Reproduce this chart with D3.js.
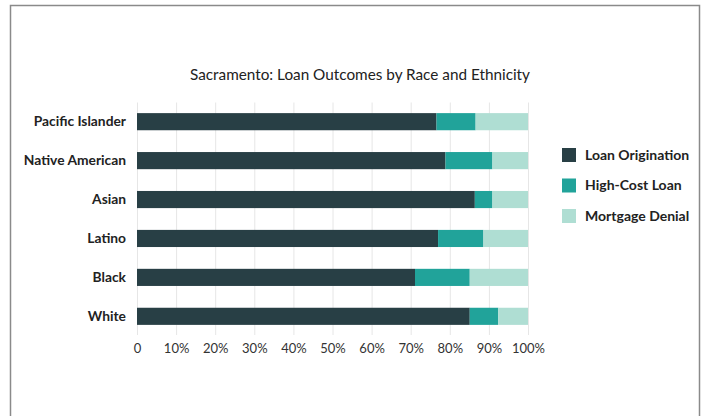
<!DOCTYPE html>
<html>
<head>
<meta charset="utf-8">
<script src="https://cdn.jsdelivr.net/npm/d3@7/dist/d3.min.js"></script>
<style>
  html, body { margin: 0; padding: 0; background: #fff; }
  svg { display: block; }
</style>
</head>
<body>
<svg id="chart" width="709" height="416"></svg>
<script>
const title = "Sacramento: Loan Outcomes by Race and Ethnicity";
const categories = ["Pacific Islander", "Native American", "Asian", "Latino", "Black", "White"];
const seriesNames = ["Loan Origination", "High-Cost Loan", "Mortgage Denial"];
const loanOrigination = [76.6, 78.9, 86.4, 77.0, 71.1, 85.1];
const highCostLoan   = [10.0, 12.0, 4.5, 11.6, 14.0, 7.3];
const mortgageDenial = [13.4, 9.1, 9.1, 11.4, 14.9, 7.6];
const tickValues = [0, 10, 20, 30, 40, 50, 60, 70, 80, 90, 100];
const tickLabels = ["0", "10%", "20%", "30%", "40%", "50%", "60%", "70%", "80%", "90%", "100%"];
const colors = ["#283f45", "#21a39a", "#afded3"];

const svg = d3.select("#chart");

// outer frame
svg.append("rect")
  .attr("x", 10.5).attr("y", 5.5)
  .attr("width", 689).attr("height", 430)
  .attr("fill", "none").attr("stroke", "#8a8a8a").attr("stroke-width", 1.5);

const fontFam = "Lato, 'Open Sans', sans-serif";

svg.append("text")
  .attr("x", 360).attr("y", 80)
  .attr("text-anchor", "middle")
  .attr("font-family", fontFam)
  .attr("font-size", 15.3)
  .attr("fill", "#222")
  .text(title);

const rows = categories.map((c, i) => ({
  cat: c,
  vals: [loanOrigination[i], highCostLoan[i], mortgageDenial[i]]
}));
const stackData = rows.map(r => {
  const o = { cat: r.cat };
  seriesNames.forEach((s, j) => o[s] = r.vals[j]);
  return o;
});
const stacked = d3.stack().keys(seriesNames)(stackData);

const x = d3.scaleLinear().domain([0, 100]).range([137, 528]);
const y = d3.scaleBand().domain(categories).range([103, 335])
  .paddingInner(0.56).paddingOuter(0.26);

// gridlines
svg.append("g").selectAll("line")
  .data(tickValues).join("line")
  .attr("x1", d => x(d) + 0.5).attr("x2", d => x(d) + 0.5)
  .attr("y1", 102.5).attr("y2", 335)
  .attr("stroke", "#e6e6e6").attr("stroke-width", 1);

// bars
svg.append("g").selectAll("g")
  .data(stacked).join("g")
  .attr("fill", (d, i) => colors[i])
  .selectAll("rect")
  .data(d => d).join("rect")
  .attr("x", d => x(d[0]))
  .attr("width", d => x(d[1]) - x(d[0]))
  .attr("y", d => y(d.data.cat))
  .attr("height", y.bandwidth());

// x axis labels
const xAxis = d3.axisBottom(x)
  .tickValues(tickValues)
  .tickFormat((d, i) => tickLabels[i])
  .tickSize(0).tickPadding(0);
const gx = svg.append("g").attr("transform", "translate(0,343.5)").call(xAxis);
gx.select(".domain").remove();
gx.selectAll("text")
  .attr("font-family", fontFam)
  .attr("font-size", 13)
  .attr("fill", "#333")
  .attr("dy", "0.71em");

// y axis labels
const yAxis = d3.axisLeft(y).tickSize(0).tickPadding(0);
const gy = svg.append("g").attr("transform", "translate(126,0)").call(yAxis);
gy.select(".domain").remove();
gy.selectAll("text")
  .attr("font-family", fontFam)
  .attr("font-size", 13.8)
  .attr("font-weight", "bold")
  .attr("fill", "#222");

// legend
const legend = svg.append("g").attr("transform", "translate(562,148)");
const li = legend.selectAll("g").data(seriesNames).join("g")
  .attr("transform", (d, i) => `translate(0,${i * 30.5})`);
li.append("rect").attr("width", 14).attr("height", 14)
  .attr("fill", (d, i) => colors[i]);
li.append("text").attr("x", 23).attr("y", 7).attr("dy", "0.35em")
  .attr("font-family", fontFam)
  .attr("font-size", 14)
  .attr("font-weight", "bold")
  .attr("fill", "#222")
  .text(d => d);
</script>
</body>
</html>
